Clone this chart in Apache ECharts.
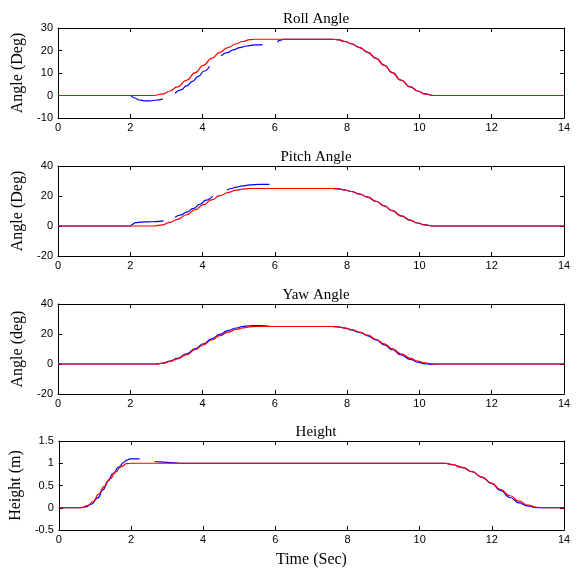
<!DOCTYPE html>
<html>
<head>
<meta charset="utf-8">
<script src="https://cdn.jsdelivr.net/npm/echarts@6/dist/echarts.min.js"></script>
<style>
  html, body { margin: 0; padding: 0; background: #fff; }
  #chart { width: 577px; height: 569px; }
</style>
</head>
<body>
<div id="chart"></div>
<script>
// time axis ticks
const timeTicks = { min: 0, max: 14, interval: 2 }

// reference (red) and measured (blue, split where the trace has gaps)
const rollRef = [[0,0],[2.65,0],[2.9,0.7],[3.1,2.0],[3.3,3.8],[3.56,6.8],[3.8,10.2],[4.02,13.4],[4.25,16.5],[4.48,19.2],[4.7,21.3],[4.94,23.0],[5.1,24.0],[5.31,24.8],[5.45,25],[7.6,25],[7.74,24.8],[7.95,24.0],[8.11,23.0],[8.35,21.3],[8.57,19.2],[8.8,16.5],[9.03,13.4],[9.25,10.2],[9.49,6.8],[9.75,3.8],[9.95,2.0],[10.15,0.7],[10.4,0],[14,0]]
const rollAct = [
  [[0,0],[2.0,0],[2.1,-1.0],[2.25,-2.0],[2.4,-2.35],[2.55,-2.35],[2.7,-2.1],[2.9,-1.6]],
  [[3.24,1.0],[3.4,2.5],[3.56,4.3],[3.72,6.3],[3.88,8.5],[4.05,10.9],[4.19,13.0]],
  [[4.51,17.6],[4.68,19.1],[4.85,20.3],[5.03,21.3],[5.22,22.0],[5.45,22.5],[5.66,22.6]],
  [[6.07,23.8],[6.15,24.6],[6.25,25],[7.6,25],[7.74,24.8],[7.95,24.0],[8.11,23.0],[8.35,21.3],[8.57,19.2],[8.8,16.5],[9.03,13.4],[9.25,10.2],[9.49,6.8],[9.75,3.8],[9.95,2.0],[10.15,0.7],[10.4,0],[14,0]]
]

const pitchRef = [[0,0],[2.65,0],[2.9,0.8],[3.1,2.4],[3.3,4.4],[3.56,7.5],[3.8,10.9],[4.02,14.2],[4.25,17.4],[4.48,20.2],[4.7,22.3],[4.94,23.9],[5.1,24.6],[5.3,25],[7.6,25],[7.74,24.8],[7.95,24.0],[8.11,23.0],[8.35,21.3],[8.57,19.2],[8.8,16.5],[9.03,13.4],[9.25,10.2],[9.49,6.8],[9.75,3.8],[9.95,2.0],[10.15,0.7],[10.4,0],[14,0]]
const pitchAct = [
  [[0,0],[2.0,0],[2.07,1.3],[2.14,2.2],[2.3,2.6],[2.5,2.8],[2.7,2.9],[2.92,3.4]],
  [[3.24,5.8],[3.4,7.4],[3.56,9.2],[3.75,11.7],[3.93,14.5],[4.1,17.2],[4.28,19.9]],
  [[4.67,23.9],[4.8,25.0],[4.94,25.9],[5.1,26.7],[5.31,27.4],[5.55,27.7],[5.85,27.7]],
  [[6.27,25],[7.6,25],[7.74,24.8],[7.95,24.0],[8.11,23.0],[8.35,21.3],[8.57,19.2],[8.8,16.5],[9.03,13.4],[9.25,10.2],[9.49,6.8],[9.75,3.8],[9.95,2.0],[10.15,0.7],[10.4,0],[14,0]]
]

const yawRef = [[0,0],[2.7,0],[2.9,0.5],[3.1,1.7],[3.3,3.4],[3.56,6.3],[3.8,9.6],[4.02,12.8],[4.25,16.0],[4.48,18.9],[4.7,21.2],[4.94,23.1],[5.1,24.1],[5.31,24.8],[5.45,25],[7.6,25],[7.74,24.8],[7.95,24.0],[8.11,23.0],[8.35,21.3],[8.57,19.2],[8.8,16.5],[9.03,13.4],[9.25,10.2],[9.49,6.8],[9.75,3.8],[9.95,2.0],[10.15,0.7],[10.4,0],[14,0]]
const yawAct = [
  [[0,0],[2.7,0],[2.9,0.6],[3.1,1.9],[3.3,3.7],[3.56,6.8],[3.8,10.2],[4.02,13.5],[4.25,16.8],[4.48,19.8],[4.7,22.2],[4.94,24.0],[5.1,25.0],[5.3,25.5],[5.5,25.6],[5.7,25.5],[5.9,25],[7.6,25],[7.74,24.8],[7.95,23.9],[8.11,22.8],[8.35,21.0],[8.57,18.8],[8.8,16.0],[9.03,12.8],[9.25,9.5],[9.49,6.0],[9.75,3.0],[9.95,1.3],[10.15,0.2],[10.3,-0.2],[10.5,0],[14,0]]
]

const heightRef = [[0,0],[0.6,0],[0.8,0.05],[0.95,0.14],[1.1,0.3],[1.26,0.48],[1.42,0.65],[1.57,0.8],[1.72,0.92],[1.88,0.99],[2.0,1.0],[10.7,1.0],[10.9,0.97],[11.2,0.9],[11.45,0.81],[11.72,0.69],[12.0,0.55],[12.24,0.41],[12.5,0.27],[12.75,0.15],[13.0,0.06],[13.26,0.01],[13.4,0],[14,0]]
const heightAct = [
  [[0,0],[0.6,0],[0.75,0.02],[0.9,0.08],[1.08,0.22],[1.22,0.4],[1.36,0.6],[1.5,0.77],[1.67,0.92],[1.8,1.02],[1.88,1.07],[1.98,1.1],[2.24,1.1]],
  [[2.65,1.04],[2.8,1.03],[3.2,1.01],[3.4,1.0],[10.7,1.0],[10.9,0.97],[11.2,0.9],[11.45,0.81],[11.72,0.69],[12.0,0.54],[12.24,0.39],[12.5,0.23],[12.75,0.11],[13.0,0.04],[13.26,0.0],[14,0]]
]

const panels = [
  { title: 'Roll Angle', yName: 'Angle (Deg)', min: -10, max: 30, interval: 10, ref: rollRef, act: rollAct },
  { title: 'Pitch Angle', yName: 'Angle (Deg)', min: -20, max: 40, interval: 20, ref: pitchRef, act: pitchAct },
  { title: 'Yaw Angle', yName: 'Angle (deg)', min: -20, max: 40, interval: 20, ref: yawRef, act: yawAct },
  { title: 'Height', yName: 'Height (m)', min: -0.5, max: 1.5, interval: 0.5, ref: heightRef, act: heightAct }
]

const gridTops = [28, 166, 304, 441]
const gridHeight = 90
const sans = 'Liberation Sans, Arial, sans-serif'
const serif = 'Liberation Serif, Times New Roman, serif'

const chart = echarts.init(document.getElementById('chart'))

const grid = [], xAxis = [], yAxis = [], title = [], series = []
const tick = { show: true, inside: true, length: 4, lineStyle: { color: '#000', width: 1 } }
const line = { show: true, onZero: false, lineStyle: { color: '#000', width: 1 } }

panels.forEach((p, i) => {
  grid.push({ left: 58, right: 13, top: gridTops[i], height: gridHeight })
  title.push({
    text: p.title, left: 311, top: gridTops[i] - 21, textAlign: 'center',
    textStyle: { fontFamily: serif, fontSize: 15, fontWeight: 'normal', color: '#000' }
  })
  const last = i === panels.length - 1
  xAxis.push({
    type: 'value', gridIndex: i, ...timeTicks, position: 'bottom',
    axisLine: line, axisTick: tick, splitLine: { show: false },
    axisLabel: { color: '#000', fontFamily: sans, fontSize: 11, margin: 4 },
    name: last ? 'Time (Sec)' : '', nameLocation: 'middle', nameGap: 22,
    nameTextStyle: { fontFamily: serif, fontSize: 16, color: '#000' }
  })
  xAxis.push({
    type: 'value', gridIndex: i, ...timeTicks, position: 'top',
    axisLine: line, axisTick: tick, axisLabel: { show: false }, splitLine: { show: false }
  })
  yAxis.push({
    type: 'value', gridIndex: i, min: p.min, max: p.max, interval: p.interval, position: 'left',
    axisLine: line, axisTick: tick, splitLine: { show: false },
    axisLabel: { color: '#000', fontFamily: sans, fontSize: 11, margin: 5 },
    name: p.yName, nameLocation: 'middle', nameGap: 28,
    nameTextStyle: { fontFamily: serif, fontSize: 16, color: '#000' }
  })
  yAxis.push({
    type: 'value', gridIndex: i, min: p.min, max: p.max, interval: p.interval, position: 'right',
    axisLine: line, axisTick: tick, axisLabel: { show: false }, splitLine: { show: false }
  })
  p.act.forEach(seg => {
    series.push({
      type: 'line', xAxisIndex: i * 2, yAxisIndex: i * 2, data: seg,
      showSymbol: false, smooth: true, smoothMonotone: 'x', z: 2,
      lineStyle: { color: '#0000ff', width: 1.2 }
    })
  })
  series.push({
    type: 'line', xAxisIndex: i * 2, yAxisIndex: i * 2, data: p.ref,
    showSymbol: false, smooth: true, smoothMonotone: 'x', z: 3,
    lineStyle: { color: '#ff0000', width: 1.2 }
  })
})

chart.setOption({ animation: false, backgroundColor: '#fff', title, grid, xAxis, yAxis, series })
</script>
</body>
</html>
